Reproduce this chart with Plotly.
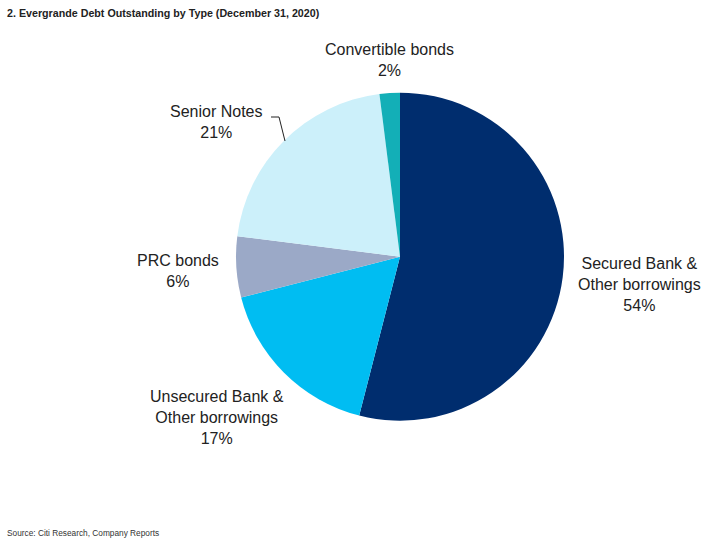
import plotly.graph_objects as go

categories = ["Secured Bank &<br>Other borrowings", "Unsecured Bank &<br>Other borrowings",
              "PRC bonds", "Senior Notes", "Convertible bonds"]
values = [54, 17, 6, 21, 2]
colors = ["#002D6E", "#00BDF2", "#9BA9C7", "#CCF0FA", "#13AFB7"]

W, H = 716, 546
# label anchor positions in pixels (center of text block)
label_pos = [(639, 284), (217, 417), (178, 271), (216, 122), (390, 60)]

fig = go.Figure(go.Pie(
    labels=categories, values=values, sort=False, direction="clockwise", rotation=0,
    marker=dict(colors=colors, line=dict(width=0)),
    textinfo="none", hoverinfo="label+percent", showlegend=False,
    domain=dict(x=[236/W, 564/W], y=[(H-420.7)/H, (H-92.7)/H]),
))

anns = []
for cat, v, (px, py) in zip(categories, values, label_pos):
    anns.append(dict(x=px/W, y=1-py/H, xref="paper", yref="paper", showarrow=False,
                     text=f"{cat}<br>{v}%", align="center", xanchor="center", yanchor="middle",
                     font=dict(family="Liberation Sans, Arial, sans-serif", size=16, color="#222222")))
anns.append(dict(x=5/W, y=1-13/H, xref="paper", yref="paper", showarrow=False, xanchor="left",
                 yanchor="middle", text="<b>2. Evergrande Debt Outstanding by Type (December 31, 2020)</b>",
                 font=dict(family="Liberation Sans, Arial, sans-serif",
                           size=10.7, color="#222222")))
anns.append(dict(x=5/W, y=1-533/H, xref="paper", yref="paper", showarrow=False, xanchor="left",
                 yanchor="middle", text="Source: Citi Research, Company Reports",
                 font=dict(family="Liberation Sans, Arial, sans-serif",
                           size=8.3, color="#333333")))

fig.update_layout(
    width=W, height=H, margin=dict(l=0, r=0, t=0, b=0),
    paper_bgcolor="white", plot_bgcolor="white",
    annotations=anns,
    shapes=[dict(type="path", xref="paper", yref="paper",
                 path=f"M {271/W},{1-117/H} L {279/W},{1-117/H} L {285/W},{1-141/H}",
                 line=dict(color="#222222", width=1))],
)
fig.write_html("out.html", config={"displayModeBar": False},
               post_script="document.body.style.margin='0';document.body.style.overflow='hidden';")
